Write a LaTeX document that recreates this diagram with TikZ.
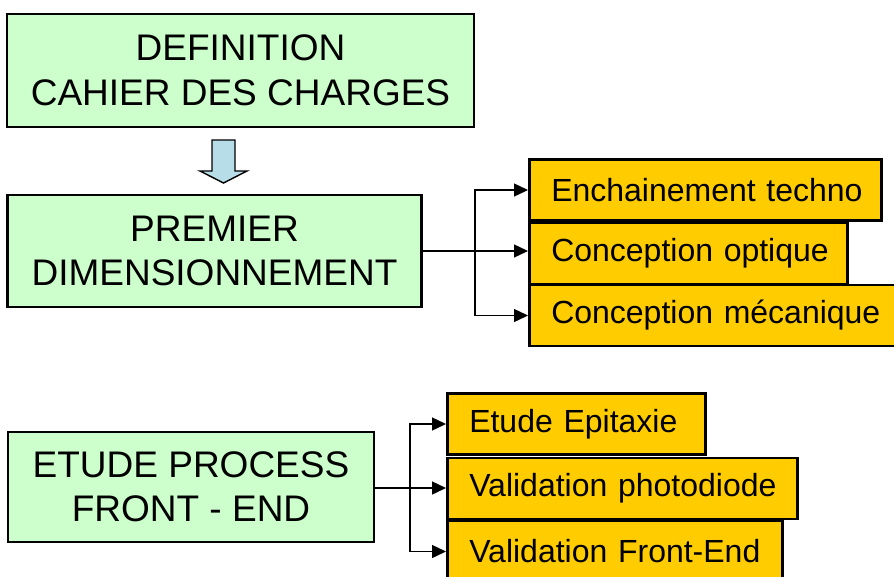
\documentclass[tikz,border=0pt]{standalone}
\usepackage{fontspec}
\setmainfont{Liberation Sans}
\usetikzlibrary{arrows.meta}

\definecolor{phasegreen}{RGB}{204,255,204}
\definecolor{taskorange}{RGB}{255,204,0}
\definecolor{flowblue}{RGB}{183,221,232}

\tikzset{
  phase/.style = {draw, line width=2.5pt, fill=phasegreen, align=center,
                  inner sep=0pt, font=\fontsize{37}{44.5}\selectfont},
  task/.style  = {draw, line width=2.5pt, fill=taskorange, anchor=west,
                  align=left, inner sep=0pt, minimum height=61pt,
                  font=\fontsize{32}{38}\selectfont,
                  execute at begin node={\hspace*{22pt}}},
  link/.style  = {line width=1.4pt},
  tip/.style   = {link, -{Triangle[length=14pt,width=13pt]}},
  blockarrow/.style = {draw, line width=1.4pt, fill=flowblue, line join=miter},
}

\begin{document}
\begin{tikzpicture}[x=1pt, y=-1pt]
    \useasboundingbox (0,0) rectangle (894,576);

    % phases
    \node[phase, minimum width=467pt, minimum height=113pt] (def) at (240.5, 70.5)
        {DEFINITION\\CAHIER DES CHARGES};
    \node[phase, minimum width=414pt, minimum height=112pt] (dim) at (214.5, 251)
        {PREMIER\\DIMENSIONNEMENT};
    \node[phase, minimum width=366pt, minimum height=110pt] (proc) at (191, 487)
        {ETUDE PROCESS\\FRONT - END};

    % big arrow between the first two phases
    \draw[blockarrow] (212,140) -- (235,140) -- (235,171) -- (247,171)
        -- (223.5,183) -- (200,171) -- (212,171) -- cycle;

    % tasks of the first dimensioning
    \node[task, text width=352pt] (techno) at (528, 190) {Enchainement techno};
    \node[task, text width=318pt] (optique) at (528, 253.5) {Conception optique};
    \node[task, text width=372pt] (meca) at (528, 315.5) {Conception mécanique};

    % tasks of the front-end process
    \node[task, text width=258pt] (epi) at (446, 424) {Etude Epitaxie};
    \node[task, text width=350pt] (diode) at (446, 488.5) {Validation photodiode};
    \node[task, text width=335pt] (fe) at (446, 551.5) {Validation Front-End};

    \coordinate (fork1) at (475, 251);
    \coordinate (fork2) at (410, 488);

    \draw[link] (dim.east) -- (fork1);
    \draw[tip] (fork1) |- (techno.west);
    \draw[tip] (fork1) -- (optique.west |- fork1);
    \draw[tip] (fork1) |- (meca.west);

    \draw[link] (proc.east |- fork2) -- (fork2);
    \draw[tip] (fork2) |- (epi.west);
    \draw[tip] (fork2) -- (diode.west |- fork2);
    \draw[tip] (fork2) |- (fe.west);
\end{tikzpicture}
\end{document}
